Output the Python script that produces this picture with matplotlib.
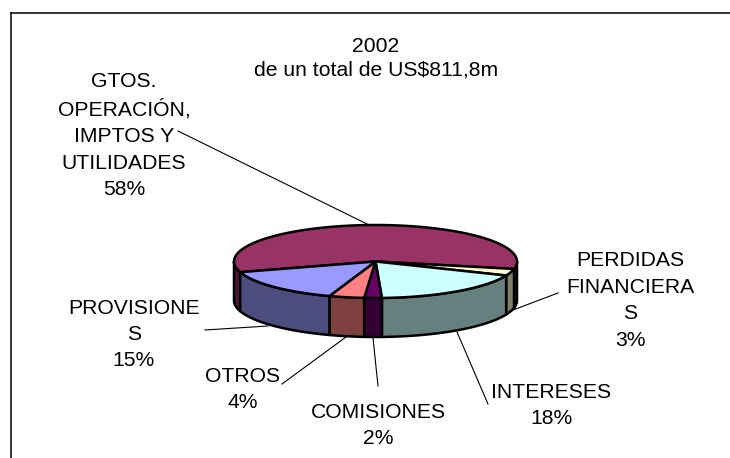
"""Pie chart 2002 - 3D style pie drawn by hand on a pixel sized axes."""

import numpy as np
import matplotlib

matplotlib.use("Agg")
import matplotlib.pyplot as plt
from matplotlib.patches import Polygon

plt.rcParams["font.family"] = ["Liberation Sans", "DejaVu Sans"]

# clockwise from the start angle
SHARES = [58, 3, 18, 2, 4, 15]
LABELS = [
    "GTOS.\nOPERACIÓN,\nIMPTOS Y\nUTILIDADES\n58%",
    "PERDIDAS\nFINANCIERA\nS\n3%",
    "INTERESES\n18%",
    "COMISIONES\n2%",
    "OTROS\n4%",
    "PROVISIONE\nS\n15%",
]
TOP_COLORS = ["#993366", "#FFFFCC", "#CCFFFF", "#660066", "#FF8080", "#9999FF"]
SIDE_COLORS = ["#4C1933", "#7F7F66", "#667F7F", "#330033", "#7F4040", "#4C4C7F"]
TITLE = "2002\nde un total de US$811,8m"

W, H = 730, 458
CX, CY = 375.5, 261.5
RX, RY = 141.5, 36.5
DEPTH = 39
START_ANGLE = 197
FONT_SIZE = 15.2
LINE_W = 1.8

LABEL_POS = [(124, 135.5), (630, 300.5), (551, 405.5), (378, 425.5), (243, 389.5), (134, 334.5)]
LEADERS = [
    [(178, 131), (367, 224)],
    [(558, 293), (513, 310)],
    [(457, 332), (488, 404)],
    [(373, 338), (378, 386)],
    [(346, 337), (282, 384)],
    [(205, 330), (268, 326)],
]


def rim(angles, drop=0.0):
    rad = np.radians(angles)
    return np.column_stack((CX + RX * np.cos(rad), CY - RY * np.sin(rad) + drop))


def draw_side(ax, a0, a1, color, z):
    """Side wall between two angles, a0 > a1, only the front half (180..360) is visible."""
    angles = np.linspace(a0, a1, 60)
    pts = np.vstack((rim(angles), rim(angles[::-1], DEPTH)))
    ax.add_patch(Polygon(pts, closed=True, facecolor=color, edgecolor="black",
                         linewidth=LINE_W, joinstyle="round", zorder=z))


fig = plt.figure(figsize=(W / 100, H / 100), dpi=100)
ax = fig.add_axes([0, 0, 1, 1])
ax.set_xlim(0, W)
ax.set_ylim(H, 0)
ax.axis("off")

# chart frame, the image cuts it at the right and at the bottom
ax.plot([10.5, 10.5], [H, 12.5], color="black", linewidth=1.1, zorder=1)
ax.plot([10.5, W], [12.5, 12.5], color="black", linewidth=1.1, zorder=1)

edges = START_ANGLE - np.cumsum([0] + SHARES) * 3.6

# side walls first; the first slice runs over the back so only its two ends show
draw_side(ax, edges[0], 180, SIDE_COLORS[0], 2)
draw_side(ax, 360, edges[1] % 360, SIDE_COLORS[0], 2)
for i, (a0, a1) in enumerate(zip(edges[1:-1], edges[2:]), start=1):
    draw_side(ax, a0 % 360, a1 % 360, SIDE_COLORS[i], 3)

# top faces
for i, (a0, a1) in enumerate(zip(edges[:-1], edges[1:])):
    pts = np.vstack(([(CX, CY)], rim(np.linspace(a0, a1, 120))))
    ax.add_patch(Polygon(pts, closed=True, facecolor=TOP_COLORS[i], edgecolor="black",
                         linewidth=LINE_W, joinstyle="round", zorder=4))

for (x0, y0), (x1, y1) in LEADERS:
    ax.plot([x0, x1], [y0, y1], color="black", linewidth=0.8, zorder=1.5)

ax.text(376, 58.5, TITLE, ha="center", va="center", fontsize=FONT_SIZE, linespacing=1.3)
for (x, y), text in zip(LABEL_POS, LABELS):
    ax.text(x, y, text, ha="center", va="center", fontsize=FONT_SIZE, linespacing=1.5)

fig.savefig("out.png", dpi=100)
plt.close(fig)
